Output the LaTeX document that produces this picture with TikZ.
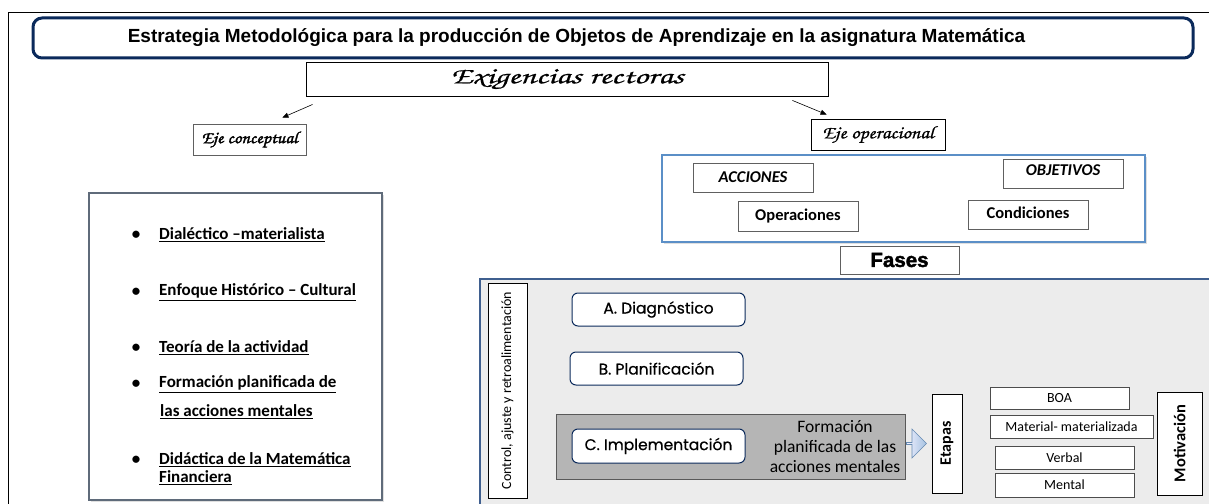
\documentclass[tikz,border=0pt]{standalone}
\usepackage{fontspec}
\setmainfont{Carlito}
\newfontfamily\arialf{Liberation Sans}
\newfontfamily\heavyf{Liberation Sans Bold}[FakeBold=2]
\newfontfamily\gothf{Poppins}[FakeBold=0.5]
\newfontfamily\scriptf{texgyrechorus-mediumitalic.otf}[FakeStretch=1.5, FakeBold=0.6]
\newfontfamily\scriptbf{texgyrechorus-mediumitalic.otf}[FakeBold=1.8, FakeStretch=1.1]
\newfontfamily\scriptof{texgyrechorus-mediumitalic.otf}[FakeStretch=1.15, FakeBold=0.6]
\usetikzlibrary{arrows.meta,shapes.arrows,shadows}
\definecolor{navy}{HTML}{0B2A5B}
\definecolor{steel}{HTML}{5B8FC7}
\definecolor{graybg}{HTML}{ECECEC}
\definecolor{darkbg}{HTML}{B5B5B5}
\definecolor{frameblue}{HTML}{3F5F8F}
\definecolor{listframe}{HTML}{5F6B7A}
\tikzset{
  plain/.style={draw=black, line width=0.9pt, fill=white, inner sep=0pt, align=center},
  gbox/.style={draw=gray!75!black, line width=0.8pt, fill=white, inner sep=0pt, align=center},
  rbox/.style={draw=navy, line width=1pt, rounded corners=6pt, fill=white, inner sep=0pt,
    minimum width=173pt, font=\gothf\fontsize{15.5}{18}\selectfont},
  arr/.style={-{Triangle[length=6pt,width=5pt]}, line width=0.6pt},
  litem/.style={inner sep=0pt, font=\bfseries\fontsize{17}{19}\selectfont},
  cal/.style={font=\fontsize{14}{16}\selectfont},
  shad/.style={drop shadow={opacity=0.25, shadow xshift=2pt, shadow yshift=-2pt}}
}
\begin{document}
\begin{tikzpicture}[x=1pt,y=-1pt]
\useasboundingbox (0,0) rectangle (1209,503);
\clip (0,0) rectangle (1209,503);
\fill[white] (0,0) rectangle (1209,503);
% outer frame
\draw[line width=0.9pt] (8,12) rectangle (1230,530);

% title
\node[draw=navy, line width=3pt, rounded corners=9pt, minimum width=1160pt, minimum height=40pt,
  inner sep=0pt] (title) at (613,38) {};
\node[inner sep=0pt, font=\arialf\bfseries\fontsize{19}{22}\selectfont] (titletext) at (576.5,38)
  {Estrategia Metodológica para la producción de Objetos de Aprendizaje en la asignatura Matemática};

% exigencias
\node[plain, minimum width=522pt, minimum height=34pt, font=\scriptf\fontsize{23}{25}\selectfont] (ex) at (567,79) {Exigencias rectoras};
\node[gbox, minimum width=113pt, minimum height=31pt, font=\scriptbf\fontsize{17}{19}\selectfont] (ec) at (249.5,139.5) {Eje conceptual};
\node[plain, minimum width=134pt, minimum height=31pt, font=\scriptof\fontsize{18}{20}\selectfont] (eo) at (878,134.5) {Eje operacional};
\draw[arr] ([xshift=7pt,yshift=-8pt]ex.south west) -- ([xshift=-24pt,yshift=6pt]ec.north east);
\draw[arr] ([xshift=-36pt,yshift=-4pt]ex.south east) -- ([xshift=16pt,yshift=4pt]eo.north west);

% blue container
\node[draw=steel, line width=1.3pt, fill=white, shad, minimum width=483pt, minimum height=87pt, inner sep=0pt] (cont) at (903.5,198.5) {};
\node[gbox, minimum width=120pt, minimum height=29pt, font=\bfseries\itshape\fontsize{16.5}{18}\selectfont] (acc) at (753,177.5) {ACCIONES};
\node[gbox, minimum width=120pt, minimum height=29pt, font=\bfseries\itshape\fontsize{16.5}{18}\selectfont, text depth=6pt] (obj) at (1063,173.5) {OBJETIVOS};
\node[gbox, minimum width=120pt, minimum height=30pt, font=\bfseries\fontsize{16.5}{18}\selectfont] (ope) at (798,216) {Operaciones};
\node[gbox, minimum width=120pt, minimum height=29pt, font=\bfseries\fontsize{16.5}{18}\selectfont, text depth=3pt] (con) at (1028,214.5) {Condiciones};
\node[gbox, minimum width=119pt, minimum height=28pt, font=\heavyf\fontsize{20.5}{22}\selectfont] (fases) at (899.5,260) {Fases};

% left list
\node[draw=listframe, line width=1.2pt, fill=white, shad, minimum width=293pt, minimum height=307pt, inner sep=0pt] (list) at (235.5,346.5) {};
\node[litem] (b1) at (136,235) {•};
\node[litem, anchor=west] (l1) at (159,235) {\underline{Dialéctico –materialista}};
\node[litem] (b2) at (136,292) {•};
\node[litem, anchor=west] (l2) at (159,292) {\underline{Enfoque Histórico – Cultural}};
\node[litem] (b3) at (136,348) {•};
\node[litem, anchor=west] (l3) at (159,348) {\underline{Teoría de la actividad}};
\node[litem] (b4) at (136,384) {•};
\node[litem, anchor=west] (l4) at (159,384) {\underline{Formación planificada de}};
\node[litem, anchor=west] (l4b) at (160,412) {\underline{las acciones mentales}};
\node[litem] (b5) at (136,460) {•};
\node[litem, anchor=west] (l5) at (159,460) {\underline{Didáctica de la Matemática}};
\node[litem, anchor=west] (l5b) at (159,478) {\underline{Financiera}};

% gray container
\draw[frameblue, line width=1.6pt, fill=graybg] (480,279) rectangle (1240,530);
\node[plain, minimum width=215pt, minimum height=39pt, rotate=90, font=\fontsize{14}{16}\selectfont] (ctrl) at (507.5,390.5) {Control, ajuste y retroalimentación};
\node[rbox, minimum height=33pt] (A) at (658.5,309.5) {A. Diagnóstico};
\node[rbox, minimum height=33pt] (B) at (656.5,368.5) {B. Planificación};
\node[draw=black!65, line width=1pt, fill=darkbg, minimum width=349pt, minimum height=65pt, inner sep=0pt] (impl) at (730.5,446.5) {};
\node[rbox, minimum height=34pt] (C) at (658.5,446) {C. Implementación};
\node[align=center, inner sep=0pt, font=\fontsize{17.5}{20}\selectfont] (form) at (835,447) {Formación\\planificada de las\\acciones mentales};
\node[single arrow, draw=steel!70!gray, line width=0.6pt, left color=blue!6!white, right color=steel!55!white,
  minimum width=29pt, minimum height=20pt, single arrow head extend=4pt, inner sep=0pt] (arw) at (916,443.5) {};
\node[plain, minimum width=99pt, minimum height=30pt, rotate=90, font=\bfseries\fontsize{16}{18}\selectfont] (et) at (947,443.5) {Etapas};
\node[gbox, draw=black!70, minimum width=139pt, minimum height=22pt, cal] (boa) at (1059.5,398) {BOA};
\node[gbox, draw=black!70, minimum width=163pt, minimum height=23pt, cal] (mat) at (1071.5,426.5) {Material- materializada};
\node[gbox, draw=black!70, minimum width=139pt, minimum height=23pt, cal] (ver) at (1064.5,457.5) {Verbal};
\node[gbox, draw=black!70, minimum width=139pt, minimum height=24pt, cal] (men) at (1064.5,485) {Mental};
\node[plain, minimum width=103pt, minimum height=45pt, rotate=90, font=\bfseries\fontsize{16.5}{18}\selectfont] (mot) at (1179.5,443.5) {Motivación};
\end{tikzpicture}
\end{document}
